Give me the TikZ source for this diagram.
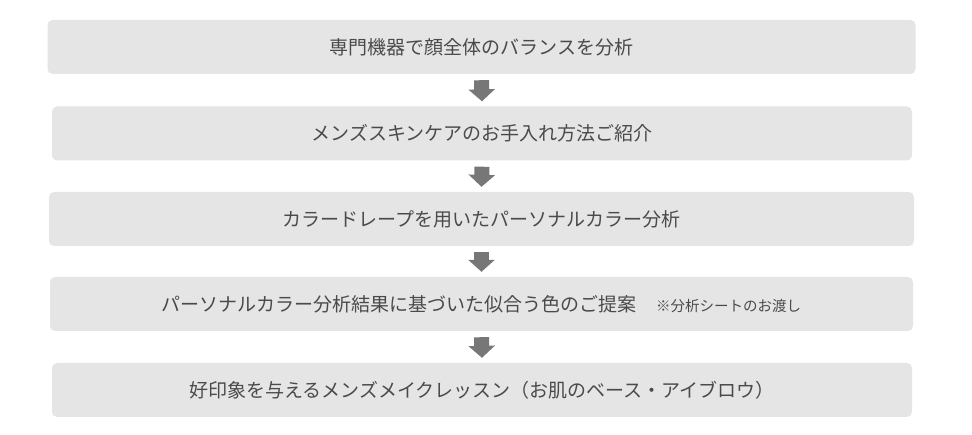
\documentclass[tikz,border=0pt]{standalone}
\usepackage{fontspec}
\setmainfont{Noto Sans CJK JP}
\usetikzlibrary{arrows.meta}
\definecolor{fondo}{HTML}{E6E5E5}
\definecolor{texto}{HTML}{4A4A4A}
\definecolor{flechagris}{HTML}{777777}

\begin{document}
\begin{tikzpicture}[x=1pt,y=-1pt,
  caja/.style={fill=fondo,rounded corners=5pt,minimum height=54pt,inner sep=0pt,
    text=texto,font=\fontsize{19}{21}\selectfont},
  flecha/.style={draw=flechagris,line width=15pt,-{Triangle[width=26pt,length=12pt]},flechagris}]
  \useasboundingbox (0,0) rectangle (972,435);
  % cajas de los pasos
  \node[caja,minimum width=868pt] (p1) at (481.5,47) {専門機器で顔全体のバランスを分析};
  \node[caja,minimum width=860pt] (p2) at (482,133.5) {メンズスキンケアのお手入れ方法ご紹介};
  \node[caja,minimum width=865pt] (p3) at (481.5,219) {カラードレープを用いたパーソナルカラー分析};
  \node[caja,minimum width=863pt] (p4) at (481.5,304) {パーソナルカラー分析結果に基づいた似合う色のご提案\hspace{20pt}{\fontsize{14.5}{16}\selectfont ※分析シートのお渡し}};
  \node[caja,minimum width=860pt] (p5) at (482,390) {好印象を与えるメンズメイクレッスン（お肌のベース・アイブロウ）};
  % flechas entre pasos
  \foreach \a/\b in {p1/p2,p2/p3,p3/p4,p4/p5}{
    \draw[flecha] ([yshift=-6pt]\a.south) -- ([yshift=5pt]\b.north);
  }
\end{tikzpicture}
\end{document}
